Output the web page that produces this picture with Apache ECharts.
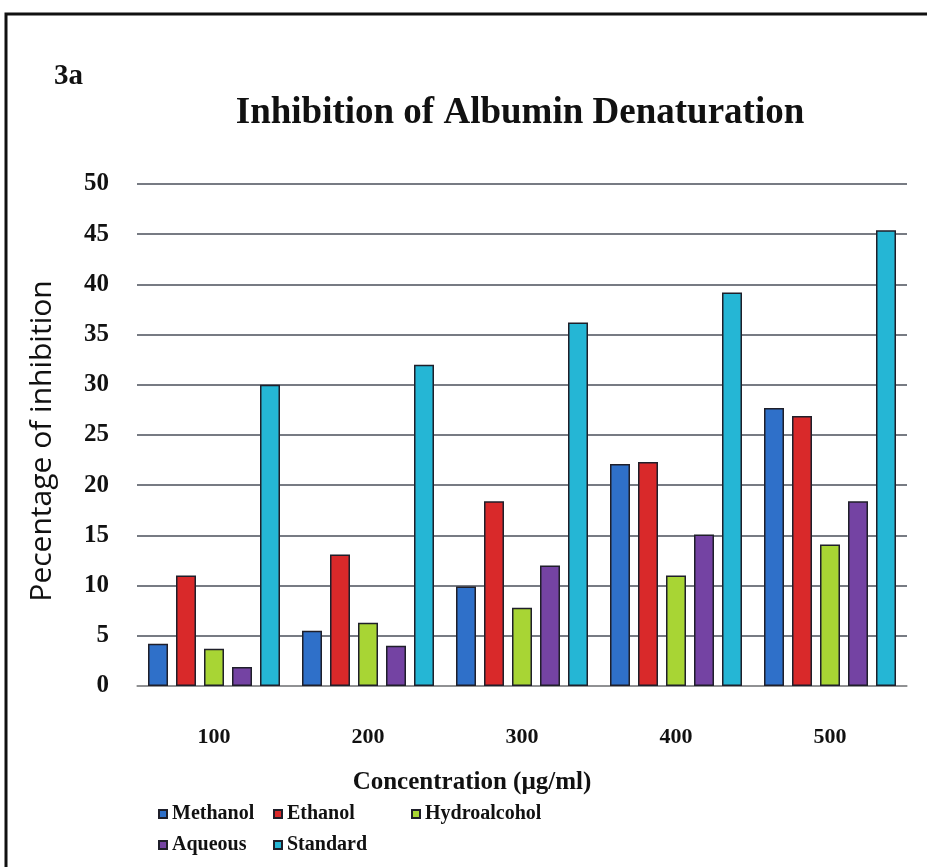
<!DOCTYPE html>
<html>
<head>
<meta charset="utf-8">
<script src="https://cdn.jsdelivr.net/npm/echarts@6/dist/echarts.min.js"></script>
<style>html,body{margin:0;padding:0;background:#fff;}#c{width:927px;height:867px;}</style>
</head>
<body>
<div id="c"></div>
<script>
const categories = ['100', '200', '300', '400', '500'];
const methanol = [4.2, 5.5, 9.9, 22.1, 27.7];
const ethanol = [11.0, 13.1, 18.4, 22.3, 26.9];
const hydroalcohol = [3.7, 6.3, 7.8, 11.0, 14.1];
const aqueous = [1.9, 4.0, 12.0, 15.1, 18.4];
const standard = [30.0, 32.0, 36.2, 39.2, 45.4];
const yTicks = [0, 5, 10, 15, 20, 25, 30, 35, 40, 45, 50];

const serif = '"Liberation Serif", "DejaVu Serif", serif';
const colors = ['#2f70c9', '#d9292a', '#a8d534', '#7443a3', '#25b6d5'];

function mk(name, data, i) {
  return {
    name: name, type: 'bar', data: data, barWidth: 20, barGap: '40%',
    itemStyle: { color: colors[i], borderColor: '#1f1f2a', borderWidth: 1.5 }
  };
}
function lg(names, left) {
  return {
    data: names, left: left, top: 799, orient: 'vertical',
    itemWidth: 8, itemHeight: 8, itemGap: 11, icon: 'rect',
    textStyle: { fontFamily: serif, fontWeight: 'bold', fontSize: 20, color: '#111' }
  };
}

const chart = echarts.init(document.getElementById('c'));
chart.setOption({
  backgroundColor: '#ffffff',
  animation: false,
  color: colors,
  title: {
    text: 'Inhibition of Albumin Denaturation',
    left: 515, top: 90, textAlign: 'center',
    textStyle: { fontFamily: serif, fontWeight: 'bold', fontSize: 37, color: '#111' }
  },
  graphic: [
    { type: 'rect', shape: { x: 6, y: 14, width: 940, height: 900 },
      style: { fill: 'none', stroke: '#111', lineWidth: 3 } },
    { type: 'text', left: 54, top: 62,
      style: { text: '3a', font: 'bold 29px ' + serif, fill: '#111' } }
  ],
  legend: [
    lg(['Methanol', 'Aqueous'], 153),
    lg(['Ethanol', 'Standard'], 268),
    lg(['Hydroalcohol'], 406)
  ],
  grid: { left: 137, right: 20, top: 184, bottom: 181, containLabel: false },
  xAxis: {
    type: 'category', data: categories,
    name: 'Concentration (\u00b5g/ml)', nameLocation: 'middle', nameGap: 84,
    nameTextStyle: { fontFamily: serif, fontWeight: 'bold', fontSize: 25, color: '#111', padding: [0, 100, 0, 0] },
    axisLine: { show: true, lineStyle: { color: '#999', width: 1.5 } },
    axisTick: { show: false },
    axisLabel: { margin: 40, fontFamily: serif, fontWeight: 'bold', fontSize: 22, color: '#111' }
  },
  yAxis: {
    type: 'value', min: 0, max: 50, interval: 5,
    name: 'Pecentage of inhibition', nameLocation: 'middle', nameGap: 80,
    nameTextStyle: { fontFamily: '"Open Sans", "Noto Sans", sans-serif', fontSize: 30, color: '#111', padding: [0, 12, 0, 0] },
    axisLine: { show: false }, axisTick: { show: false },
    axisLabel: { margin: 28, fontFamily: serif, fontWeight: 'bold', fontSize: 25, color: '#111',
      formatter: function (v) { return yTicks.indexOf(v) >= 0 ? String(v) : ''; } },
    splitLine: { lineStyle: { color: '#4a4f5a', width: 1.5 } }
  },
  series: [
    mk('Methanol', methanol, 0),
    mk('Ethanol', ethanol, 1),
    mk('Hydroalcohol', hydroalcohol, 2),
    mk('Aqueous', aqueous, 3),
    mk('Standard', standard, 4)
  ]
});
</script>
</body>
</html>
